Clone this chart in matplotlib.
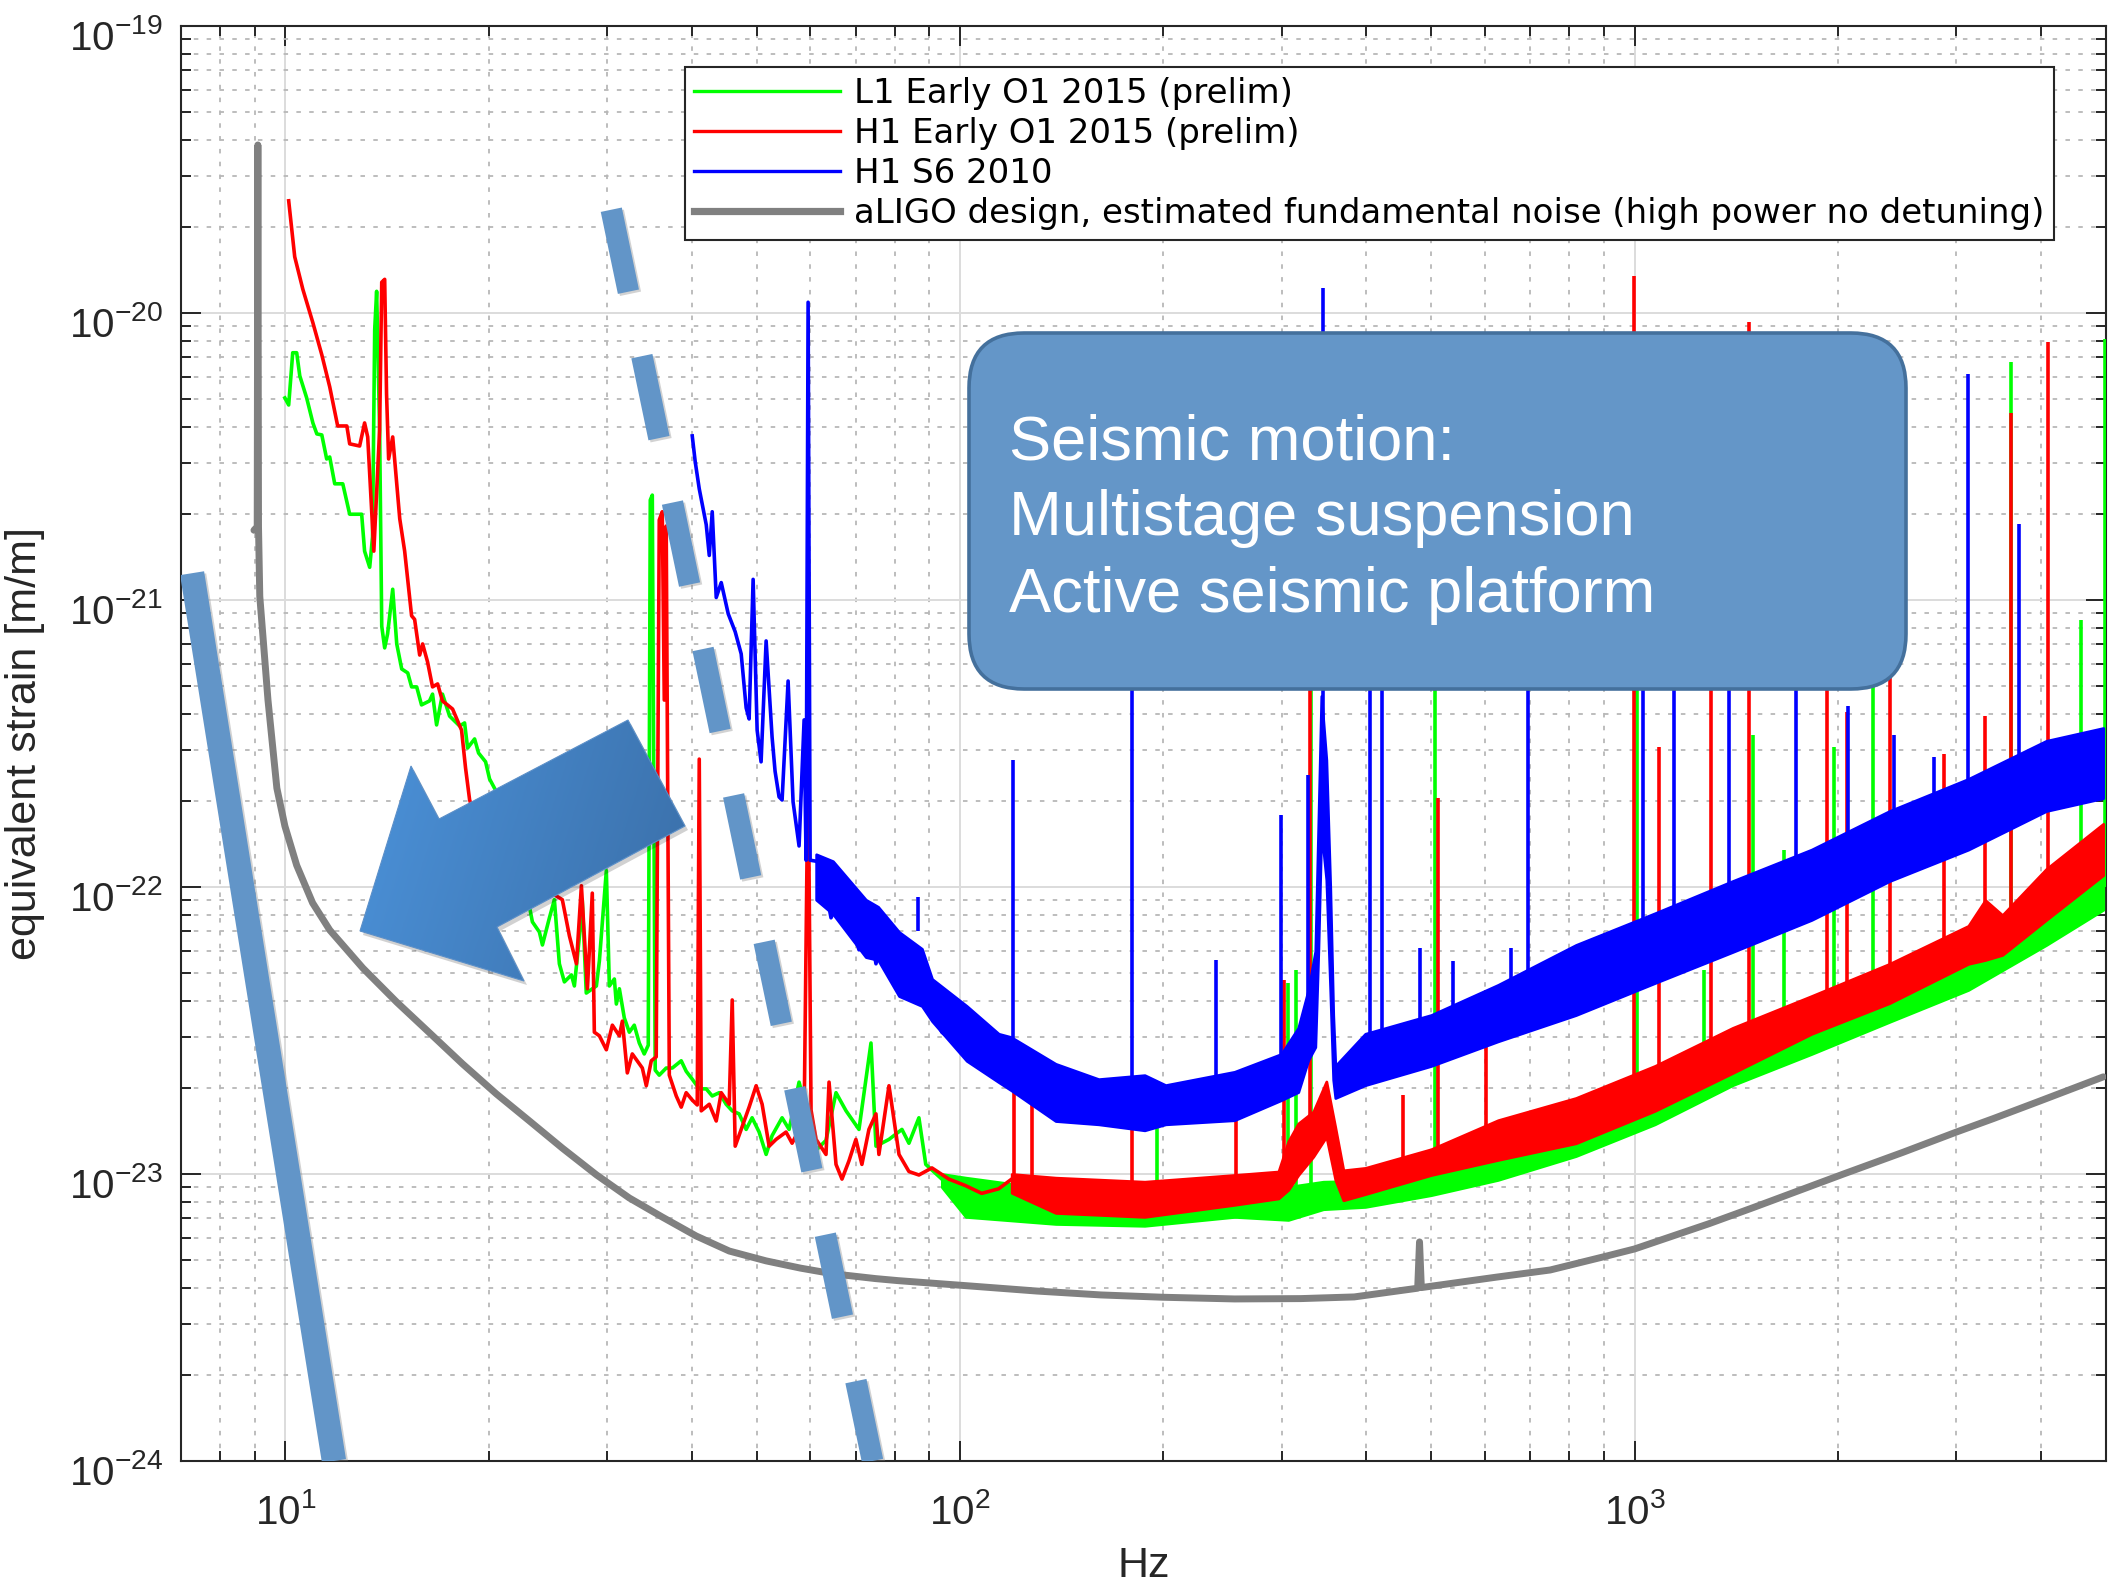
import numpy as np
import matplotlib
matplotlib.use("Agg")
import matplotlib.pyplot as plt
from matplotlib.patches import Polygon, FancyBboxPatch
from matplotlib.lines import Line2D
from matplotlib.colors import LinearSegmentedColormap
from matplotlib import patheffects as pe
from matplotlib.ticker import FixedLocator, NullFormatter
from matplotlib.transforms import ScaledTranslation

plt.rcParams['font.family'] = ['Liberation Sans', 'DejaVu Sans']
plt.rcParams['mathtext.fontset'] = 'custom'
plt.rcParams['mathtext.rm'] = 'Liberation Sans'
plt.rcParams['mathtext.it'] = 'Liberation Sans:italic'
plt.rcParams['mathtext.bf'] = 'Liberation Sans:bold'

# ---------------- data (frequency in Hz, equivalent strain) ----------------
labels = ['L1 Early O1 2015 (prelim)', 'H1 Early O1 2015 (prelim)', 'H1 S6 2010',
          'aLIGO design, estimated fundamental noise (high power no detuning)']

x_major = [10, 100, 1000]
y_major = [1e-24, 1e-23, 1e-22, 1e-21, 1e-20, 1e-19]

# aLIGO design curve
aligo_f = [8.98, 9.08, 9.10, 9.12, 9.16, 9.42, 9.71, 9.98, 10.39, 10.97, 11.63, 13.02, 14.62,
           16.36, 18.30, 20.55, 23.00, 25.74, 28.91, 32.34, 36.19, 40.64, 45.49, 51.6, 58.0,
           64.8, 75.0, 81.0, 102.4, 130, 161.7, 200, 255.3, 320, 384.2, 477, 480, 483, 623.5,
           750, 898, 1000, 1289, 1500, 2041, 2500, 3000, 3404, 4000, 4954]
aligo_h = [1.75e-21, 1.8e-21, 3.85e-20, 1.8e-21, 1.03e-21, 4.48e-22, 2.21e-22, 1.63e-22,
           1.19e-22, 8.80e-23, 7.08e-23, 5.22e-23, 3.97e-23, 3.10e-23, 2.42e-23, 1.90e-23,
           1.53e-23, 1.23e-23, 9.93e-24, 8.25e-24, 7.08e-24, 6.08e-24, 5.39e-24, 4.98e-24,
           4.70e-24, 4.49e-24, 4.32e-24, 4.25e-24, 4.08e-24, 3.91e-24, 3.79e-24, 3.72e-24,
           3.67e-24, 3.68e-24, 3.73e-24, 4.0e-24, 5.8e-24, 4.02e-24, 4.37e-24, 4.63e-24,
           5.14e-24, 5.48e-24, 6.71e-24, 7.64e-24, 1.0e-23, 1.19e-23, 1.40e-23, 1.56e-23,
           1.80e-23, 2.18e-23]

# L1 Early O1 (green): low-frequency trace
l1_f = [9.98, 10.11, 10.25, 10.39, 10.50, 10.75, 10.98, 11.13, 11.32, 11.51,
        11.63, 11.83, 12.16, 12.45, 12.97, 13.10, 13.33, 13.46, 13.56, 13.65,
        13.79, 13.89, 14.03, 14.17, 14.42, 14.62, 14.87, 15.18, 15.38, 15.65,
        15.91, 16.35, 16.52, 16.75, 17.09, 17.51, 18.12, 18.43, 18.62, 19.07,
        19.33, 19.80, 20.07, 20.56, 21.12, 21.85, 22.38, 23.00, 23.23, 23.79,
        24.04, 24.62, 25.04, 25.47, 25.91, 26.54, 26.81, 27.28, 27.54, 27.92,
        28.90, 29.20, 29.90, 30.21, 30.73, 30.94, 31.26, 31.79, 32.34, 32.89,
        33.46, 34.03, 34.50, 34.74, 34.98, 35.33, 35.82, 36.68, 37.45, 38.61,
        39.27, 40.09, 41.06, 42.05, 42.92, 43.96, 45.01, 45.95, 47.05, 48.19,
        49.18, 50.37, 51.59, 52.65, 54.48, 55.80, 57.73, 59.74, 61.18, 63.29,
        65.49, 67.77, 70.83, 73.79, 75.06, 78.47, 82.02, 84.00, 86.91, 88.97,
        93.98, 102.0, 107.7, 114.1, 120.9]
l1_h = [5.06e-21, 4.78e-21, 7.27e-21, 7.27e-21, 6.04e-21, 5.06e-21, 4.14e-21, 3.79e-21, 3.76e-21, 3.10e-21,
        3.15e-21, 2.54e-21, 2.54e-21, 1.99e-21, 1.99e-21, 1.48e-21, 1.30e-21, 1.66e-21, 8.74e-21, 1.19e-20,
        3.91e-21, 8.1e-22, 6.81e-22, 7.62e-22, 1.09e-21, 7.03e-22, 5.75e-22, 5.57e-22, 4.98e-22, 4.98e-22,
        4.31e-22, 4.45e-22, 4.70e-22, 3.67e-22, 4.70e-22, 3.94e-22, 3.64e-22, 3.73e-22, 3.05e-22, 3.28e-22,
        2.93e-22, 2.73e-22, 2.38e-22, 2.14e-22, 1.71e-22, 1.24e-22, 1.02e-22, 8.53e-23, 7.56e-23, 6.97e-23,
        6.28e-23, 7.81e-23, 9.03e-23, 5.40e-23, 4.67e-23, 4.94e-23, 4.52e-23, 6.75e-23, 9.03e-23, 4.27e-23,
        4.52e-23, 5.53e-23, 1.14e-22, 4.52e-23, 4.78e-23, 3.91e-23, 4.42e-23, 3.50e-23, 3.12e-23, 3.30e-23,
        2.86e-23, 2.62e-23, 2.81e-23, 2.23e-21, 2.32e-21, 2.30e-23, 2.21e-23, 2.34e-23, 2.34e-23, 2.48e-23,
        2.28e-23, 2.14e-23, 1.98e-23, 1.98e-23, 1.87e-23, 1.92e-23, 1.75e-23, 1.66e-23, 1.62e-23, 1.43e-23,
        1.57e-23, 1.40e-23, 1.17e-23, 1.36e-23, 1.57e-23, 1.43e-23, 2.09e-23, 1.53e-23, 1.21e-23, 1.31e-23,
        1.92e-23, 1.66e-23, 1.43e-23, 2.86e-23, 1.25e-23, 1.32e-23, 1.43e-23, 1.28e-23, 1.57e-23, 1.08e-23,
        9.6e-24, 8.1e-24, 7.68e-24, 7.86e-24, 8.39e-24]
# L1 noise band (upper / lower envelope)
l1_band_f = [94, 102, 138.6, 187.8, 255.2, 306.7, 345.6, 398.8, 499.4, 627.6, 818.6, 1072,
             1398, 1830, 2388, 3125, 4077, 4953]
l1_band_hi = [1.0e-23, 9.71e-24, 8.81e-24, 8.51e-24, 8.81e-24, 9.02e-24, 9.40e-24, 9.47e-24,
              1.075e-23, 1.31e-23, 1.58e-23, 2.14e-23, 2.77e-23, 3.58e-23, 4.63e-23, 6.04e-23,
              8.66e-23, 1.19e-22]
l1_band_lo = [9.0e-24, 7.09e-24, 6.70e-24, 6.60e-24, 7.09e-24, 6.92e-24, 7.54e-24, 7.68e-24,
              8.44e-24, 9.54e-24, 1.155e-23, 1.49e-23, 2.04e-23, 2.62e-23, 3.39e-23, 4.38e-23,
              6.28e-23, 8.33e-23]
# L1 narrow lines
l1_line_f = [195.6, 305.9, 314.5, 331, 506, 1008, 1266, 1496, 1663, 1979, 2260, 3619, 4596, 4985]
l1_line_base = [7.5e-24, 8e-24, 8e-24, 8.5e-24, 9.5e-24, 1.8e-23, 2.2e-23, 2.7e-23, 3.1e-23,
                4.0e-23, 4.5e-23, 6.5e-23, 9e-23, 1e-22]
l1_line_peak = [1.74e-23, 4.63e-23, 5.13e-23, 1.5e-21, 1.5e-21, 1.5e-21, 5.13e-23, 3.39e-22,
                1.35e-22, 3.08e-22, 1.5e-21, 6.75e-21, 8.52e-22, 8.11e-21]

# H1 Early O1 (red): low-frequency trace
h1_f = [10.11, 10.32, 10.61, 10.98, 11.32, 11.63, 11.95, 12.33, 12.45, 12.88,
        13.10, 13.24, 13.52, 13.79, 13.89, 14.03, 14.12, 14.22, 14.42, 14.77,
        15.02, 15.38, 15.54, 15.81, 15.97, 16.24, 16.52, 16.81, 17.09, 17.69,
        18.24, 18.49, 18.75, 19.40, 20.07, 20.76, 21.48, 22.23, 23.00, 24.20,
        25.04, 25.73, 26.36, 27.00, 27.46, 28.03, 28.50, 28.70, 29.20, 29.90,
        30.52, 31.26, 31.58, 32.12, 32.67, 33.81, 34.27, 34.86, 35.45, 35.82,
        36.19, 36.44, 36.68, 37.07, 37.96, 38.61, 39.27, 40.09, 40.78, 41.06,
        41.34, 42.49, 43.51, 44.26, 45.48, 45.95, 46.42, 47.38, 48.68, 49.86,
        50.89, 52.12, 53.37, 55.22, 56.37, 58.73, 59.54, 60.14, 61.18, 63.29,
        63.95, 65.49, 66.84, 68.44, 70.09, 71.54, 73.28, 75.06, 75.82, 78.47,
        79.21, 81.20, 84.00, 86.91, 90.85, 96.26, 102.0, 107.7, 114.1, 119.3]
h1_h = [2.46e-20, 1.57e-20, 1.21e-20, 9.25e-21, 7.15e-21, 5.53e-21, 4.04e-21, 4.04e-21, 3.50e-21, 3.44e-21,
        4.14e-21, 3.70e-21, 1.48e-21, 3.91e-21, 1.28e-20, 1.31e-20, 5.22e-21, 3.10e-21, 3.70e-21, 1.92e-21,
        1.48e-21, 8.81e-22, 8.56e-22, 6.43e-22, 7.03e-22, 6.09e-22, 4.98e-22, 5.10e-22, 4.45e-22, 4.17e-22,
        3.52e-22, 2.60e-22, 2.01e-22, 1.58e-22, 1.35e-22, 1.19e-22, 1.10e-22, 1.02e-22, 9.78e-23, 9.40e-23,
        9.40e-23, 9.03e-23, 6.75e-23, 5.40e-23, 1.01e-22, 4.42e-23, 9.52e-23, 3.12e-23, 3.03e-23, 2.71e-23,
        3.30e-23, 3.03e-23, 3.41e-23, 2.25e-23, 2.62e-23, 2.34e-23, 2.03e-23, 2.48e-23, 2.56e-23, 1.90e-21,
        2.03e-21, 4.48e-22, 1.81e-21, 2.21e-23, 1.87e-23, 1.71e-23, 1.92e-23, 1.81e-23, 1.74e-23, 2.79e-22,
        1.66e-23, 1.75e-23, 1.53e-23, 1.92e-23, 1.75e-23, 4.04e-23, 1.25e-23, 1.43e-23, 1.71e-23, 2.03e-23,
        1.75e-23, 1.25e-23, 1.32e-23, 1.40e-23, 1.28e-23, 1.54e-23, 2.77e-22, 1.67e-23, 1.32e-23, 1.17e-23,
        2.09e-23, 1.08e-23, 9.6e-24, 1.11e-23, 1.32e-23, 1.08e-23, 1.43e-23, 1.62e-23, 1.17e-23, 2.03e-23,
        1.75e-23, 1.17e-23, 1.02e-23, 9.92e-24, 1.05e-23, 9.6e-24, 9.10e-24, 8.56e-24, 8.88e-24, 9.6e-24]
h1_band_f = [119.3, 138.6, 187.8, 255.2, 296.5, 306.7, 317.3, 334.0, 349.2, 360.1, 370.1, 398.8,
             499.4, 627.6, 818.6, 1072, 1398, 1830, 2388, 3125, 3311, 3510, 4077, 4953]
h1_band_hi = [1.0e-23, 9.71e-24, 9.40e-24, 9.92e-24, 1.02e-23, 1.30e-23, 1.50e-23, 1.65e-23,
              2.10e-23, 1.45e-23, 1.03e-23, 1.05e-23, 1.22e-23, 1.54e-23, 1.84e-23, 2.38e-23,
              3.23e-23, 4.17e-23, 5.40e-23, 7.32e-23, 9.0e-23, 7.98e-23, 1.155e-22, 1.66e-22]
h1_band_lo = [8.6e-24, 7.32e-24, 7.09e-24, 7.81e-24, 8.22e-24, 8.81e-24, 9.92e-24, 1.15e-23,
              1.35e-23, 9.54e-24, 8.10e-24, 8.51e-24, 9.92e-24, 1.12e-23, 1.28e-23, 1.66e-23,
              2.25e-23, 3.08e-23, 3.94e-23, 5.40e-23, 5.57e-23, 5.80e-23, 7.68e-23, 1.10e-22]
h1_line_f = [120.2, 127.8, 179.6, 256.2, 301.8, 330.6, 454, 511.4, 602.6, 997, 1087, 1298,
             1476, 1926, 2065, 2388, 2877, 3311, 3619, 4106]
h1_line_base = [9e-24, 9e-24, 8.5e-24, 8.5e-24, 1.1e-23, 1.5e-23, 1e-23, 1.1e-23, 1.2e-23, 2e-23,
                2e-23, 2.4e-23, 2.8e-23, 4e-23, 4.2e-23, 4.6e-23, 5.8e-23, 7e-23, 7.5e-23, 9e-23]
h1_line_peak = [2.28e-23, 1.96e-23, 1.89e-23, 1.84e-23, 4.74e-23, 1.5e-21, 1.89e-23, 2.04e-22,
                4.38e-23, 1.35e-20, 3.08e-22, 1.5e-21, 9.3e-21, 1.5e-21, 4.07e-22, 7.68e-22,
                2.91e-22, 3.95e-22, 4.49e-21, 7.93e-21]

# H1 S6 2010 (blue)
s6_f = [40.09, 40.50, 41.06, 42.05, 42.49, 42.92, 43.51, 44.26, 45.33, 46.42, 47.38, 48.19, 48.68,
        49.35, 50.03, 50.71, 51.59, 52.65, 53.19, 53.92, 54.48, 55.61, 56.56, 57.73, 58.73, 59.13,
        59.54, 59.95, 61.18, 62.23, 64.38, 66.84, 70.83, 72.53, 75.06, 76.56, 79.21, 81.20, 89.92,
        93.98, 98.58, 106.6, 116.9]
s6_h = [3.73e-21, 3.03e-21, 2.44e-21, 1.83e-21, 1.43e-21, 2.03e-21, 1.02e-21, 1.15e-21, 8.95e-22,
        7.75e-22, 6.49e-22, 4.21e-22, 3.85e-22, 1.18e-21, 3.52e-22, 2.73e-22, 7.20e-22, 3.33e-22,
        2.53e-22, 2.06e-22, 2.01e-22, 5.22e-22, 1.98e-22, 1.39e-22, 3.82e-22, 1.24e-22, 1.09e-20,
        1.24e-22, 1.23e-22, 1.20e-22, 7.81e-23, 9.52e-23, 6.04e-23, 8.74e-23, 5.40e-23, 6.75e-23,
        5.10e-23, 4.52e-23, 3.91e-23, 3.12e-23, 2.86e-23, 2.42e-23, 2.14e-23]
s6_band_f = [61.2, 64.8, 72.5, 75.6, 81.2, 87.8, 90.9, 102.3, 114.1, 119.0, 138.6, 160.5, 187.8,
             201.7, 255.2, 299.5, 317.3, 328.4, 336.3, 339.8, 343.3, 349.2, 353.9, 357.5, 360.1,
             398.8, 499.4, 627.6, 818.6, 1072, 1398, 1830, 2388, 3125, 4077, 4953]
s6_band_hi = [1.30e-22, 1.23e-22, 9.03e-23, 8.53e-23, 6.97e-23, 6.09e-23, 4.78e-23, 3.85e-23,
              3.08e-23, 3.00e-23, 2.42e-23, 2.14e-23, 2.21e-23, 2.04e-23, 2.27e-23, 2.62e-23,
              3.23e-23, 4.38e-23, 5.98e-23, 1.66e-22, 4.63e-22, 2.77e-22, 9.92e-23, 3.58e-23,
              2.38e-23, 3.08e-23, 3.58e-23, 4.56e-23, 6.28e-23, 8.10e-23, 1.049e-22, 1.35e-22,
              1.84e-22, 2.38e-22, 3.23e-22, 3.58e-22]
s6_band_lo = [9.03e-23, 8.06e-23, 5.70e-23, 5.57e-23, 4.17e-23, 3.85e-23, 3.41e-23, 2.48e-23,
              2.09e-23, 1.96e-23, 1.53e-23, 1.49e-23, 1.42e-23, 1.49e-23, 1.54e-23, 1.81e-23,
              1.93e-23, 2.50e-23, 2.77e-23, 6.04e-23, 1.58e-22, 1.06e-22, 4.38e-23, 2.13e-23,
              1.84e-23, 2.04e-23, 2.38e-23, 2.90e-23, 3.58e-23, 4.63e-23, 5.94e-23, 7.68e-23,
              1.049e-22, 1.35e-22, 1.84e-22, 2.04e-22]
s6_line_f = [86.6, 119.7, 179.6, 240.0, 299.5, 327.6, 345.6, 405.6, 422.7, 481.1, 538.4, 656,
             695.1, 1029, 1144, 1380, 1735, 2069, 2421, 2784, 3125, 3720]
s6_line_base = [7e-23, 2.5e-23, 1.8e-23, 1.8e-23, 2.1e-23, 3.5e-23, 2e-22, 2.6e-23, 2.6e-23,
                2.8e-23, 3e-23, 3.5e-23, 3.6e-23, 5.8e-23, 6.3e-23, 7.5e-23, 9.5e-23, 1.15e-22,
                1.3e-22, 1.45e-22, 1.6e-22, 1.9e-22]
s6_line_peak = [9.25e-23, 2.77e-22, 1.5e-21, 5.57e-23, 1.78e-22, 2.45e-22, 1.22e-20, 1.5e-21,
                1.5e-21, 6.13e-23, 5.53e-23, 6.13e-23, 1.5e-21, 1.5e-21, 1.5e-21, 1.5e-21,
                1.5e-21, 4.28e-22, 3.39e-22, 2.84e-22, 6.12e-21, 1.84e-21]

# seismic wall overlays (straight lines on log-log axes)
seis_wall_f = [7.27, 11.8]
seis_wall_h = [1.24e-21, 1.0e-24]
seis_dash_f = [30.41, 74.2]
seis_dash_h = [2.29e-20, 1.0e-24]

box_lines = ['Seismic motion:', 'Multistage suspension', 'Active seismic platform']

# ---------------- figure ----------------
W, H = 2115, 1587
fig = plt.figure(figsize=(W / 100, H / 100), dpi=100, facecolor='white')
ax = fig.add_axes([181 / W, 1 - 1461 / H, (2106 - 181) / W, (1461 - 26) / H])
ax.set_xscale('log')
ax.set_yscale('log')

GREEN, RED, BLUE, GRAY = '#00ff00', '#ff0000', '#0000ff', '#808080'
LW = 2.6

# green
ax.fill_between(l1_band_f, l1_band_lo, l1_band_hi, color=GREEN, lw=2.0, zorder=3)
ax.plot(l1_f, l1_h, color=GREEN, lw=LW, zorder=3)
ax.vlines(l1_line_f, l1_line_base, l1_line_peak, color=GREEN, lw=LW, zorder=3)
# red
ax.fill_between(h1_band_f, h1_band_lo, h1_band_hi, color=RED, lw=2.0, zorder=4)
ax.plot(h1_f, h1_h, color=RED, lw=LW, zorder=4)
ax.vlines(h1_line_f, h1_line_base, h1_line_peak, color=RED, lw=LW, zorder=4)
# blue
ax.fill_between(s6_band_f, s6_band_lo, s6_band_hi, color=BLUE, lw=2.0, zorder=5)
ax.plot(s6_f, s6_h, color=BLUE, lw=LW, zorder=5)
ax.vlines(s6_line_f, s6_line_base, s6_line_peak, color=BLUE, lw=LW, zorder=5)
# aLIGO
ax.plot(aligo_f, aligo_h, color=GRAY, lw=5.0, zorder=6, solid_capstyle='round',
        solid_joinstyle='round')

# seismic walls
SEIS = '#6295c8'
shadow = [pe.SimpleLineShadow(offset=(1.5, -1.5), shadow_color='#7f7f7f', alpha=0.35), pe.Normal()]
ax.plot(seis_wall_f, seis_wall_h, color=SEIS, lw=17.5, solid_capstyle='butt', zorder=8,
        path_effects=shadow)
dlw = 15.5
ax.plot(seis_dash_f, seis_dash_h, color=SEIS, lw=dlw, dash_capstyle='butt', zorder=8,
        linestyle=(0, (60.3 / dlw, 47.4 / dlw)), path_effects=shadow)

ax.set_xlim(7, 5000)
ax.set_ylim(1e-24, 1e-19)

# ticks & grid (fixed positions inside the view)
x_minor = [m * 10 ** k for k in range(0, 4) for m in range(2, 10) if 7 <= m * 10 ** k <= 5000
           and m * 10 ** k not in x_major]
y_minor = [m * 10.0 ** k for k in range(-24, -19) for m in range(2, 10)]
TXT = '#262626'
ax.xaxis.set_major_locator(FixedLocator(x_major))
ax.yaxis.set_major_locator(FixedLocator(y_major))
ax.xaxis.set_minor_locator(FixedLocator(x_minor))
ax.yaxis.set_minor_locator(FixedLocator(y_minor))
ax.xaxis.set_minor_formatter(NullFormatter())
ax.yaxis.set_minor_formatter(NullFormatter())
ax.set_xticklabels([r'$\mathdefault{10^{%d}}$' % int(np.log10(v)) for v in x_major])
ax.set_yticklabels([r'$\mathdefault{10^{%d}}$' % int(round(np.log10(v))) for v in y_major])
ax.grid(True, which='major', color='#dcdcdc', lw=1.4, ls='-')
ax.grid(True, which='minor', color='#b8b8b8', lw=1.3, ls=(0, (2.5, 4.6)))
ax.set_axisbelow(True)
ax.tick_params(which='both', direction='in', top=True, right=True, width=1.4, color=TXT,
               labelcolor=TXT)
ax.tick_params(which='major', length=14.4)
ax.tick_params(which='minor', length=7.2)
ax.tick_params(axis='y', which='major', pad=13, labelsize=29)
ax.tick_params(axis='x', which='major', pad=23, labelsize=29)
shift = ScaledTranslation(0, -9 / 100, fig.dpi_scale_trans)
for lab in ax.get_yticklabels():
    lab.set_transform(lab.get_transform() + shift)
for s in ax.spines.values():
    s.set_linewidth(1.5)
    s.set_color(TXT)

ax.set_xlabel('Hz', fontsize=31, color=TXT)
ax.xaxis.set_label_coords(0.5, -0.0595)
ax.set_ylabel('equivalent strain [m/m]', fontsize=31, color=TXT)
ax.yaxis.set_label_coords(-0.0707, 0.5)

# legend
handles = [Line2D([], [], color=GREEN, lw=2.4), Line2D([], [], color=RED, lw=2.4),
           Line2D([], [], color=BLUE, lw=2.4), Line2D([], [], color=GRAY, lw=5.2)]
leg = ax.legend(handles, labels, loc='upper left', bbox_to_anchor=(0.2618, 0.9714),
                borderaxespad=0, prop={'family': 'DejaVu Sans', 'size': 24.5},
                frameon=True, fancybox=False, framealpha=1, edgecolor=TXT,
                borderpad=0.28, labelspacing=0.21, handlelength=4.28, handletextpad=0.41)
leg.get_frame().set_linewidth(1.5)
leg.set_zorder(20)

# ---------------- annotation overlay (pixel coordinates) ----------------
ov = fig.add_axes([0, 0, 1, 1], zorder=10)
ov.patch.set_alpha(0)
ov.axis('off')

arrow_xy = [(360, 931), (411, 766), (439, 819), (628, 720), (685, 826), (497, 927), (524, 981)]
shadow_xy = [(x + 3, y + 4) for x, y in arrow_xy]
ov.add_patch(Polygon(shadow_xy, closed=True, facecolor='#000000', alpha=0.18, edgecolor='none',
                     zorder=4))
poly = Polygon(arrow_xy, closed=True, facecolor='none', edgecolor='#5b8fc8', lw=0.8, zorder=6)
ov.add_patch(poly)
xs = np.linspace(0, 1, 300)
ys = np.linspace(0, 1, 120)
gx, gy = np.meshgrid(xs, ys)
grad = 0.8 * gx + 0.2 * gy
cmap = LinearSegmentedColormap.from_list('arrow', ['#4c93db', '#3a6ea7'])
im = ov.imshow(grad, extent=[355, 690, 985, 715], cmap=cmap, aspect='auto', zorder=5,
               interpolation='bilinear')
im.set_clip_path(poly)

box = FancyBboxPatch((969, 333), 937, 356, boxstyle='round,pad=0,rounding_size=55',
                     facecolor='#6496c8', edgecolor='#44709c', lw=2.6, zorder=6)
ov.add_patch(box)
for txt, yb in zip(box_lines, [460, 535, 612]):
    ov.text(1009, yb, txt, fontsize=45.5, color='white', ha='left', va='baseline',
            family='Liberation Sans', zorder=7)

ov.set_xlim(0, W)
ov.set_ylim(H, 0)

fig.savefig('out.png', dpi=100, facecolor='white')
